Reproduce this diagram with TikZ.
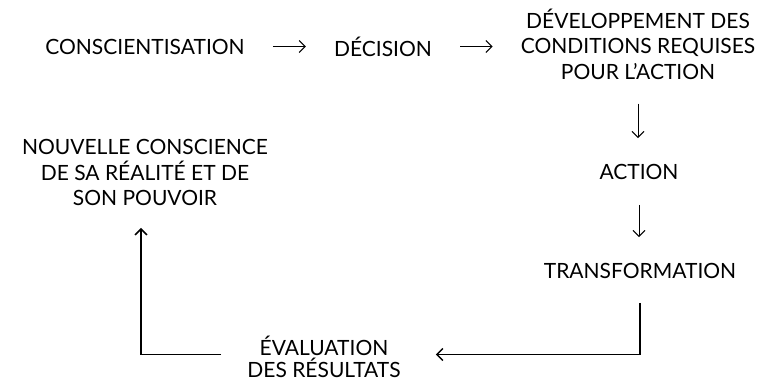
\documentclass[tikz,border=0pt]{standalone}
\usepackage{fontspec}
\setmainfont{Lato}
\usetikzlibrary{positioning,arrows.meta,calc}

\tikzset{
  etape/.style={font=\fontsize{21}{25.5}\selectfont, align=center, inner sep=0pt},
  fleche/.style={-{Straight Barb[length=6pt,width=12pt]}, line width=1pt},
  boucle/.style={line width=1.5pt}
}

\begin{document}
\begin{tikzpicture}[x=1pt, y=-1pt]
  \useasboundingbox (0,0) rectangle (763,381);
  % les etapes
  \node[etape] (consc) at (145,46.5) {CONSCIENTISATION};
  \node[etape] (decision) at (383,46.5) {DÉCISION};
  \node[etape] (dev) at (638,44) {DÉVELOPPEMENT DES\\CONDITIONS REQUISES\\POUR L’ACTION};
  \node[etape] (action) at (639,172) {ACTION};
  \node[etape] (transfo) at (640,271) {TRANSFORMATION};
  \node[etape] (eval) at (324,356.5) {ÉVALUATION\\[-3.5pt]DES RÉSULTATS};
  \node[etape] (nouvelle) at (145,172.5) {NOUVELLE CONSCIENCE\\DE SA RÉALITÉ ET DE\\SON POUVOIR};
  % les fleches
  \draw[fleche, shorten <=28pt, shorten >=28pt] (consc.east) -- (decision.west);
  \draw[fleche, shorten <=28pt, shorten >=28pt] (decision.east) -- (decision.east -| dev.west);
  \draw[fleche, shorten <=24pt, shorten >=26pt] (dev.south) -- (dev.south |- action.north);
  \draw[fleche, shorten <=25pt, shorten >=26pt] (action.south) -- (action.south |- transfo.north);
  % la boucle
  \draw[fleche, boucle, shorten <=24pt, shorten >=35pt] (transfo.south) |- ([yshift=2pt]eval.east);
  \draw[fleche, boucle, shorten <=26pt, shorten >=22pt] ([yshift=2pt]eval.west) -| ([xshift=-4pt]nouvelle.south);
\end{tikzpicture}
\end{document}
